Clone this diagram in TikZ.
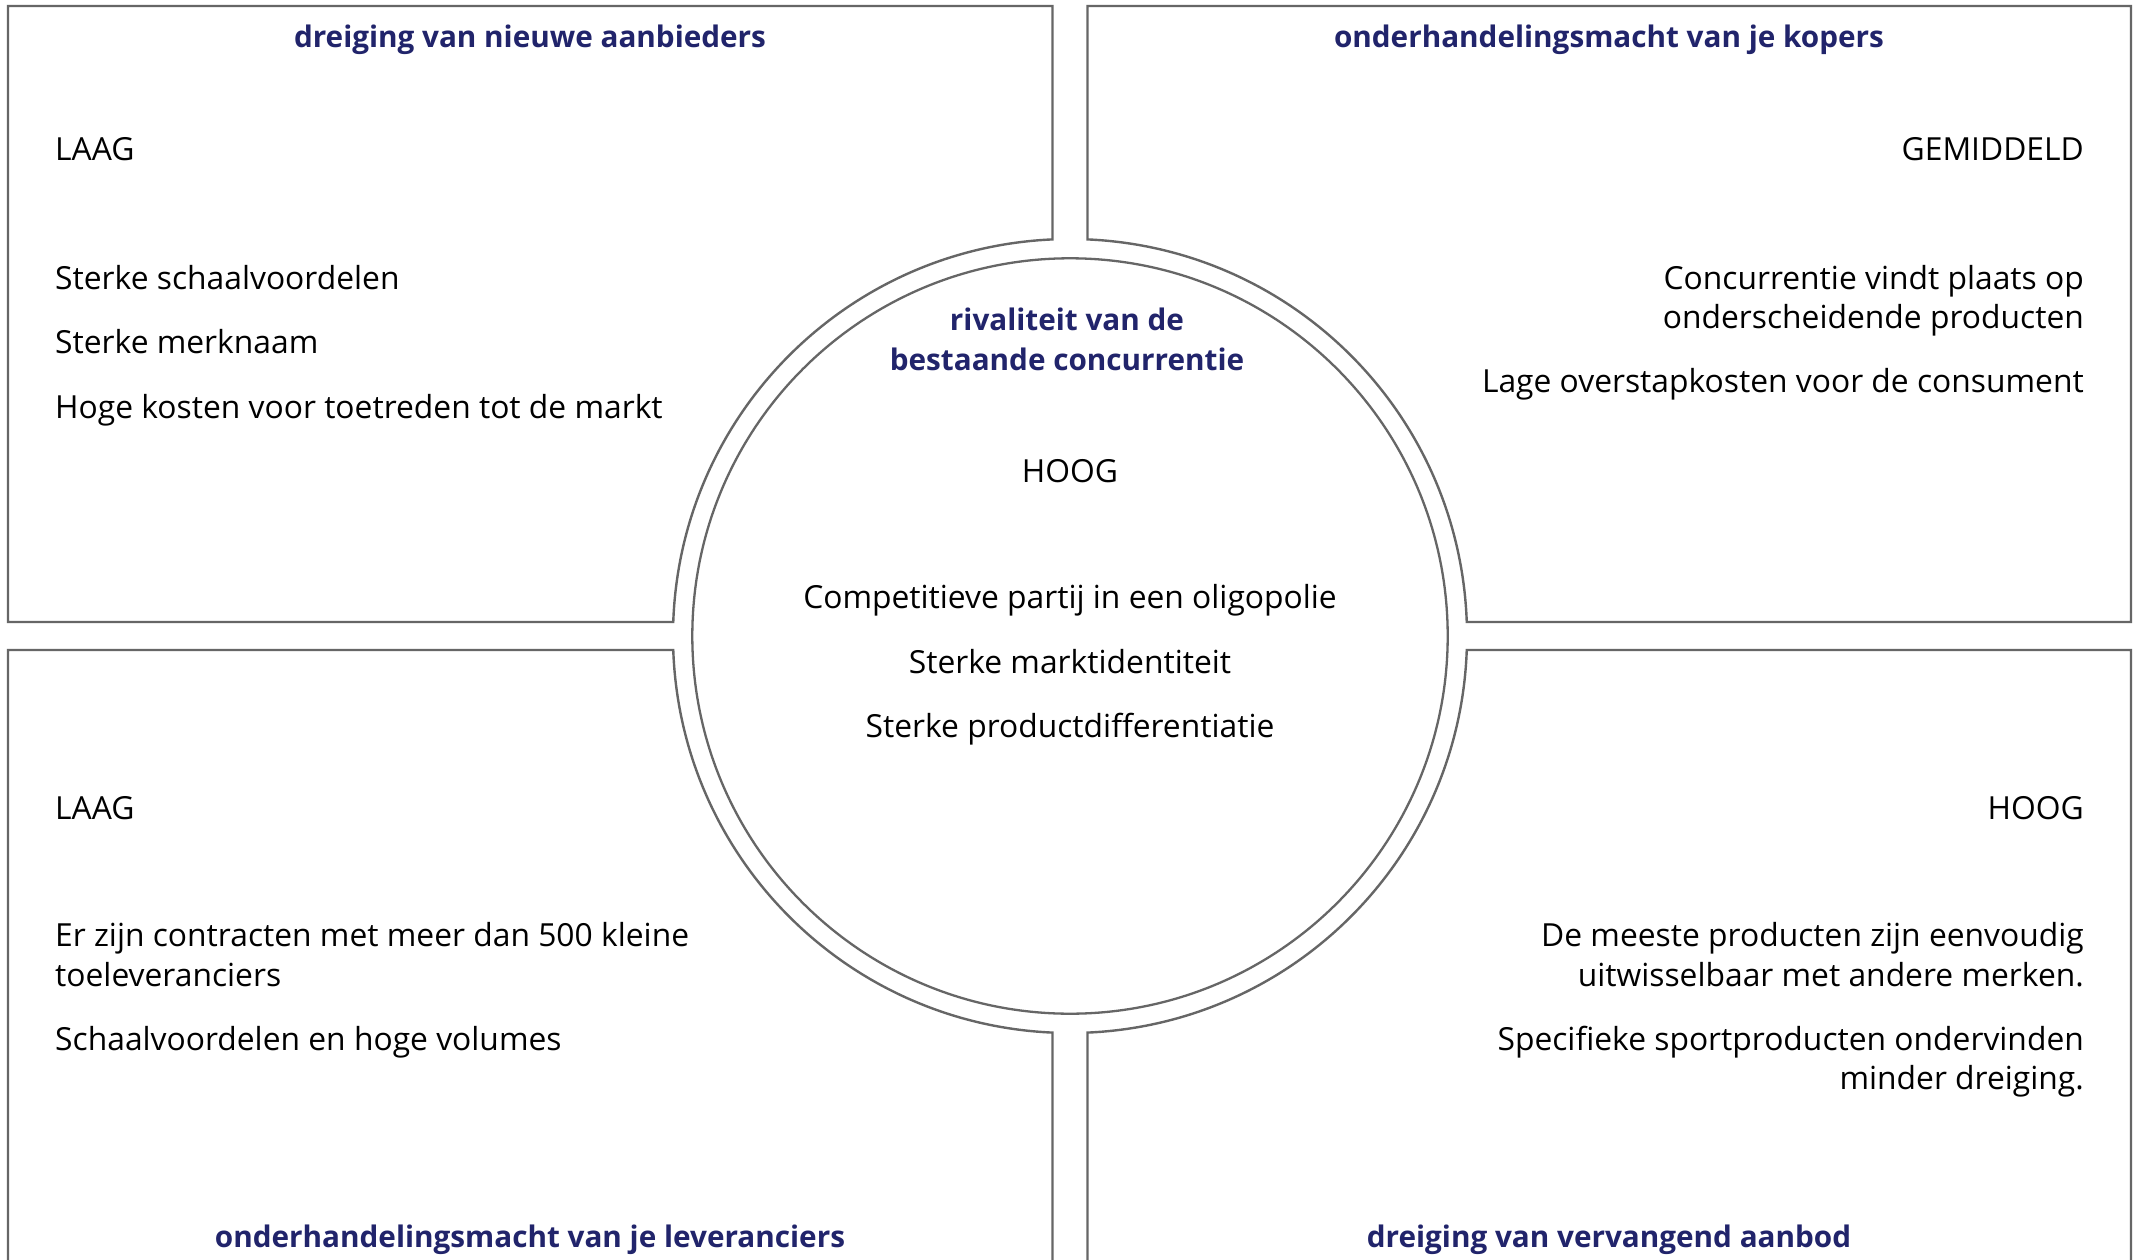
\documentclass[tikz,border=0pt]{standalone}
\usepackage{fontspec}
\setmainfont{Open Sans}
\definecolor{navy}{HTML}{21246B}
\definecolor{edge}{HTML}{666666}
\begin{document}
\begin{tikzpicture}[x=1pt,y=-1pt,
  box/.style={draw=edge, line width=2.4pt, line join=miter},
  ring/.style={draw=edge, line width=2.3pt},
  ttl/.style={font=\bfseries\fontsize{29.7}{40}\selectfont, text=navy, inner sep=0},
  txt/.style={font=\fontsize{31.8}{40}\selectfont, inner sep=0}]
\useasboundingbox (0,0) rectangle (2143,1260);
\clip (0,0) rectangle (2143,1260);
\fill[white] (0,0) rectangle (2143,1260);
\coordinate (c) at (1070,636);
% boxes
\draw[box] (8,6) -- (1052.5,6) -- ([shift={(-92.527:397)}]c) arc[start angle=-92.527, end angle=-177.979, radius=397] -- (8,622) -- cycle;
\draw[box] (1087.5,6) -- (2131,6) -- (2131,622) -- ([shift={(-2.021:397)}]c) arc[start angle=-2.021, end angle=-87.473, radius=397] -- cycle;
\draw[box] (8,1300) -- (8,650) -- ([shift={(177.979:397)}]c) arc[start angle=177.979, end angle=92.527, radius=397] -- (1052.5,1300);
\draw[box] (2131,1300) -- (2131,650) -- ([shift={(2.021:397)}]c) arc[start angle=2.021, end angle=87.473, radius=397] -- (1087.5,1300);
\draw[ring] (c) circle[radius=377.7];
% top left
\node[ttl, anchor=base] (t1) at (530,48) {dreiging van nieuwe aanbieders};
\node[txt, anchor=base west] (l1) at (55,161) {LAAG};
\node[txt, anchor=base west] (a1) at (55,289) {Sterke schaalvoordelen};
\node[txt, anchor=base west] (a2) at (55,353) {Sterke merknaam};
\node[txt, anchor=base west] (a3) at (55,418) {Hoge kosten voor toetreden tot de markt};
% top right
\node[ttl, anchor=base] (t2) at (1609,48) {onderhandelingsmacht van je kopers};
\node[txt, anchor=base east] (l2) at (2084,161) {GEMIDDELD};
\node[txt, anchor=base east] (b1) at (2084,289) {Concurrentie vindt plaats op};
\node[txt, anchor=base east] (b1b) at (2084,328) {onderscheidende producten};
\node[txt, anchor=base east] (b2) at (2084,392.5) {Lage overstapkosten voor de consument};
% centre
\node[ttl, anchor=base] (t3) at (1067,330) {rivaliteit van de};
\node[ttl, anchor=base] (t3b) at (1067,370) {bestaande concurrentie};
\node[txt, anchor=base] (l3) at (1070,482.5) {HOOG};
\node[txt, anchor=base] (c1) at (1070,608) {Competitieve partij in een oligopolie};
\node[txt, anchor=base] (c2) at (1070,673) {Sterke marktidentiteit};
\node[txt, anchor=base] (c3) at (1070,737) {Sterke productdifferentiatie};
% bottom left
\node[txt, anchor=base west] (l4) at (55,819) {LAAG};
\node[txt, anchor=base west] (d1) at (55,946.5) {Er zijn contracten met meer dan 500 kleine};
\node[txt, anchor=base west] (d1b) at (55,986) {toeleveranciers};
\node[txt, anchor=base west] (d2) at (55,1050) {Schaalvoordelen en hoge volumes};
\node[ttl, anchor=base] (t4) at (530,1247) {onderhandelingsmacht van je leveranciers};
% bottom right
\node[txt, anchor=base east] (l5) at (2084,819) {HOOG};
\node[txt, anchor=base east] (e1) at (2084,946.5) {De meeste producten zijn eenvoudig};
\node[txt, anchor=base east] (e1b) at (2084,986) {uitwisselbaar met andere merken.};
\node[txt, anchor=base east] (e2) at (2084,1050) {Specifieke sportproducten ondervinden};
\node[txt, anchor=base east] (e2b) at (2084,1089.6) {minder dreiging.};
\node[ttl, anchor=base] (t5) at (1609,1247) {dreiging van vervangend aanbod};
\end{tikzpicture}
\end{document}
